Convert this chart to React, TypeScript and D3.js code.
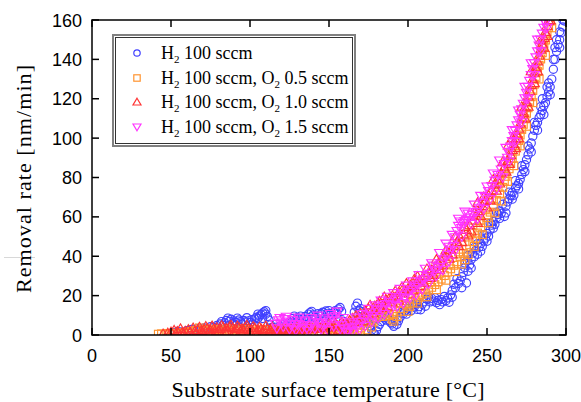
import React from "react";
import * as d3 from "d3";

const W = 581;
const H = 402;

const xTicks = [0, 50, 100, 150, 200, 250, 300];
const yTicks = [0, 20, 40, 60, 80, 100, 120, 140, 160];

const legendLabels = [
  { main: "H", sub: "2", rest: " 100 sccm", o2: "" },
  { main: "H", sub: "2", rest: " 100 sccm, O", o2: " 0.5 sccm" },
  { main: "H", sub: "2", rest: " 100 sccm, O", o2: " 1.0 sccm" },
  { main: "H", sub: "2", rest: " 100 sccm, O", o2: " 1.5 sccm" },
];

// H2 100 sccm (blue circles)
const seriesH2: [number, number][] = [
  [52,1.2],[54,1.8],[56,1.5],[60,2.2],[63,2.8],[65,2],[67,3.2],[69,2.6],[71,3.6],[73,3],[75,4.2],[77,3.8],[79,4.8],
  [81,5.6],[82,6.8],[84,6.2],[85,7.4],[87,7],[88,8],[90,7.2],[91,6.4],[93,7.6],[94,6.8],[96,7.4],[97,6.6],[99,7.2],
  [100,6.4],[101,7.8],[103,8.2],[104,9],[105,8.4],[106,9.6],[107,10.4],[108,11.2],[109,11.8],[110,10.6],[111,9.4],
  [112,7.6],[113,5.2],[114,3.8],[116,2.6],[118,3.2],[119,4.4],[121,3.6],[123,4.8],[124,6],[126,7.2],[127,8.4],
  [128,9.6],[130,8.8],[131,7.6],[133,7],[134,8.2],[135,9.4],[137,10.6],[138,11.4],[139,12],[140,10.2],[141,9],
  [142,8.2],[144,9.6],[145,10.8],[146,11.6],[148,12.2],[149,11],[150,9.8],[151,10.4],[153,11.6],[154,12.4],
  [156,13.2],[157,14],[159,7],[161,4.4],[163,3],[165,2],[166,11.6],[167,14.6],[168,16.2],[170,13.4],[171,11.8],
  [172,9.6],[174,7.4],[176,4.6],[177,2.4],[178,1],[179,0.4],[180,2.2],[181,4.2],[183,6.8],[184,8.8],[185,10.6],
  [187,9.2],[188,7.4],[190,5.6],[191,4.4],[193,5.4],[194,7.2],[195,9],[197,10.8],[198,12.2],[200,13.4],[201,14.6],
  [203,15.4],[204,14.2],[206,13],[207,14.4],[209,15.6],[210,16.8],[212,18.2],[213,19.4],[215,18.6],[216,17.2],
  [218,16.4],[219,17.6],[221,18],[222,16.8],[224,17.4],[225,18.8],[227,20.4],[228,22.6],[229,25.8],[230,24],
  [232,26.2],[233,27.4],[234,29.6],[235,31.8],[236,34.2],[237,26.4],[237.5,37.6],[238,32.4],[239,35.6],[240,38.4],
  [241,41.6],[242,39.8],[243,43.2],[244,41],[245,44.6],[246,46.4],[247,45],[248,47.8],[249,49.2],[250,51.6],
  [251,50.2],[252,53.4],[253,55.8],[254,57.6],[255,56.2],[256,59.4],[257,61.2],[258,63],[259,61.8],[261,60.2],
  [262,65.4],[263,67.6],[264,69.2],[265,70.8],[266,72.4],[267,71],[268,74.6],[269,75.8],[270,77],[271,79],
  [272,81.5],[273,84],[274,86.5],[275,89],[276,91.5],[277,94.5],[278,97.5],[279,101],[280,104],[281,106.5],
  [282,108],[283,110.5],[284,112],[285,114],[285,120],[286,116.5],[287,118],[288,121],[289,123.5],[289,128],
  [290,126],[291,130],[292,135],[293,140],[293,146],[294,144],[295,147.5],[296,150],[296,146],[297,153.5],
  [298,156.5],[299,159.5],
  [83,5],[86,8.6],[89,5.8],[92,8.6],[95,5.6],[98,8.8],[102,5.6],[105,10.6],[108,8.4],[110,12.4],[115,1.8],
  [117,4],[120,2.4],[122,5.6],[125,6.4],[129,7.4],[132,9.6],[136,7.6],[139,9.2],[143,10.8],[147,8.6],[150,12.4],
  [152,8.4],[155,10.6],[158,12],[160,5.2],[169,12.6],[173,8.8],[175,6],[182,5.4],[186,7.6],[189,6.2],[192,7],
  [196,11.6],[199,10.6],[202,12.4],[205,15.8],[208,12.8],[211,14.6],[214,16.8],[217,19],[220,15.4],[223,19.6],
  [226,16.6],[228,19.2],[231,28.6],[234,24],[236,36.6],[238,40.4],[240,34],[242,44.4],[244,46.4],[246,42.6],
  [248,51],[250,47.6],[252,56.8],[254,54.2],[256,62.4],[258,59.2],[260,66.4],[262,62],[264,72.6],[266,69],
  [268,78.4],[270,74.2],[272,86],[274,83],[276,96],[278,93],[280,108],[282,104],[284,116],[286,112],[288,126],
  [290,122],[292,140],[294,150],[296,154],[298,160],
];

// H2 100 sccm, O2 0.5 sccm (orange squares)
const seriesO05: [number, number][] = [
  [42,0.4],[44,0.6],[46,0.3],[48,0.8],[51,0.6],[54,1],[57,1.2],[60,1.4],[63,1.8],[66,2.4],[68,3.6],[70,2.8],
  [72,2.2],[75,1.8],[78,2.2],[81,1.6],[84,2],[87,2.4],[90,1.8],[93,2.2],[96,1.6],[99,2],[102,1.4],[105,1.8],
  [108,2.2],[111,1.6],[114,2],[117,2.4],[120,2],[123,2.6],[126,2.2],[129,2.8],[132,2.4],[135,3],[138,2.6],
  [141,3.2],[144,3.6],[147,3],[150,3.8],[152,3.2],[154,2.4],[156,1.6],[158,1],[160,1.8],[162,2.6],[164,1.2],
  [166,0.6],[168,2.4],[170,3.6],[172,4.8],[174,6.2],[176,7.4],[178,6.6],[180,8.8],[182,10.2],[184,9.4],
  [186,11.2],[188,9.8],[190,8],[191,7],[193,9.4],[195,12],[197,13.4],[199,15.2],[201,14.4],[203,16.6],
  [205,17.8],[207,19.2],[209,20.6],[211,21.4],[213,22.8],[215,24.2],[217,25.6],[219,27],[221,28.4],[223,30.2],
  [225,32],[227,33.6],[229,35.4],[231,37.2],[233,39.6],[235,41.4],[236,38.2],[237,43.6],[239,45.8],[241,47.4],
  [243,49.2],[244,51.8],[246,54.4],[248,57],[250,59.6],[252,62.4],[254,65.2],[256,68.4],[258,71.6],[260,75],
  [261,78.2],[262,80.6],[264,84.4],[265,87.2],[266,89.6],[268,93.4],[269,96.2],[270,98.8],[271,101.6],
  [272,104.4],[273,107],[274,109.8],[275,112.6],[276,115.4],[277,118.2],[278,121],[279,124.2],[280,127.4],
  [281,130.6],[282,133.8],[283,137],[284,140.2],[285,143.4],[286,146.6],[287,149.8],[288,153],[289,156.2],
  [290,159.4],
  [50,0.4],[56,0.5],[62,0.9],[74,3],[80,2.8],[86,3],[92,3],[98,2.8],[104,2.6],[110,2.8],[116,3],[122,3.4],
  [128,3.6],[134,3.8],[140,4],[146,4.2],[152,4.6],[160,4.2],[165,3],[170,1.4],[174,2.6],[177,4],[179,11.6],
  [183,13],[187,14.2],[191,10.4],[194,16.4],[198,18.6],[200,12],[202,20.4],[206,16.2],[208,23.4],[212,19.4],
  [214,27],[218,23],[220,31.4],[224,27.8],[226,36],[230,32.2],[232,42.2],[234,36],[238,40.8],[240,52],[242,45],
  [245,58],[247,51],[249,64],[251,57],[253,69.4],[255,62],[257,75],[259,68],[261,82],[263,78],[265,92],[267,86],
  [269,100],[271,96],[273,112],[275,106],[277,124],[279,118],[281,136],[283,130],[285,148],[287,142],[289,160],
  [291,156],
];

// H2 100 sccm, O2 1.0 sccm (red triangles)
const seriesO10: [number, number][] = [
  [45,0.6],[48,1],[50,1.6],[52,2.4],[54,1.8],[57,1.2],[59,2],[62,1.4],[65,1.8],[67,2.6],[69,2],[71,2.8],
  [73,3.4],[75,2.4],[77,3],[79,3.8],[81,3.2],[83,4],[85,3.4],[87,4.2],[89,3.6],[91,3],[93,3.8],[95,3.2],
  [97,4],[99,3.4],[101,2.8],[103,3.6],[105,2.6],[107,3.2],[109,2.4],[111,3],[113,2.4],[115,3],[117,2.2],
  [119,2.8],[121,2.2],[123,3],[125,2.4],[127,3.2],[129,2.6],[131,3.4],[133,2.8],[135,3.6],[137,3],[139,3.8],
  [141,3.2],[143,4],[145,3.4],[147,4.4],[149,3.8],[151,4.6],[153,4],[155,5],[157,4.4],[159,5.4],[161,6.2],
  [163,7.4],[165,8.6],[167,9.8],[168,7.6],[170,11],[171,9.2],[173,12.2],[175,13.4],[177,12.6],[179,14.8],
  [181,16],[182,17.2],[184,15.4],[186,17.8],[188,18.6],[189,18.2],[191,19.4],[193,20.2],[195,21.6],[196,24.2],
  [198,22.8],[200,23.6],[202,25],[204,28.4],[205,26.2],[207,27.4],[209,28.8],[211,30.2],[213,31.6],[215,33],
  [217,34.6],[219,36.2],[221,38],[223,39.8],[225,41.6],[227,43.4],[229,45.2],[231,47.4],[233,49.6],[235,51.2],
  [237,53.4],[239,55.8],[241,58.2],[243,60.6],[244,67.2],[245,63],[247,65.6],[249,68.2],[251,71],[253,73.6],
  [255,76.4],[257,79.4],[259,82.2],[261,85.2],[263,88.4],[263.5,96.4],[265,91.4],[266,94],[267,97],[268,99.4],
  [269,102],[270,104.8],[271,107.4],[272,110.2],[273,112.8],[274,115.6],[275,118.4],[276,121.2],[277,124],
  [278,127],[279,130],[280,133],[281,136],[282,139],[283,142],[284,145],[285,148],[286,151],[287,154],
  [288,157],[289,159.6],
  [56,3.2],[58,0.8],[61,2.8],[64,3.6],[66,0.9],[68,4],[70,1.2],[72,4.4],[74,1.4],[76,4.6],[78,1],[80,2],
  [82,4.8],[84,1.6],[86,2.2],[88,5],[90,1.4],[92,4.6],[94,1.8],[96,2.4],[98,5],[100,1.6],[102,4.4],[104,1.2],
  [106,4],[108,1.4],[110,4.6],[112,1],[114,4.2],[116,1.2],[118,3.8],[120,0.9],[122,4.4],[124,1.4],[126,3.8],
  [128,1],[130,4.2],[132,1.2],[134,4.6],[136,1.4],[138,4.2],[140,1.6],[142,4.8],[144,1.8],[146,5.4],[148,2],
  [150,5.8],[152,2.2],[154,6],[156,2.4],[158,6.6],[160,3],[162,4],[164,5],[166,6.6],[169,8.4],[172,7],
  [174,10.4],[176,15.2],[178,11],[180,12.4],[183,13.8],[185,19.4],[187,14.6],[190,16.6],[192,22.4],[194,17.6],
  [197,19.8],[199,26.2],[201,21],[203,22.6],[206,29.8],[208,25],[210,26.6],[212,33.6],[214,29],[216,30.6],
  [218,38.4],[220,33.2],[222,35.4],[224,43],[226,38.8],[228,41],[230,50.2],[232,45.2],[234,47.2],[236,55],
  [238,50.6],[240,52.6],[242,62],[244,57],[246,60.4],[248,70.2],[250,64.8],[252,68.4],[254,79],[256,73.4],
  [258,77],[260,88],[262,83],[264,87],[266,100],[268,95],[270,100],[272,116],[274,110],[276,116],[278,134],
  [280,128],[282,134],[284,150],[286,146],[288,152],[290,160],
];

// H2 100 sccm, O2 1.5 sccm (magenta down-triangles)
const seriesO15: [number, number][] = [
  [116,5.6],[118,7.4],[120,6.2],[122,8],[124,6.8],[126,5.2],[128,4],[130,5.6],[132,6.8],[134,5],[136,3.6],
  [138,4.8],[140,6.4],[142,7.8],[144,6.2],[146,4.6],[148,5.8],[150,7.4],[152,8.8],[154,9.6],[156,7.2],[158,5],
  [160,3.4],[162,2.2],[164,3.8],[166,5.4],[168,4.2],[170,6.6],[172,8.2],[174,10],[176,11.4],[178,9.6],
  [180,12.8],[182,14.2],[184,13],[186,15.6],[188,16.8],[190,15.4],[192,18],[194,19.2],[196,20.4],[198,19],
  [200,21.8],[202,23],[204,24.4],[206,25.6],[208,27],[210,28.2],[212,29.6],[214,31],[216,35.2],[217,32.6],
  [219,34.4],[221,36.2],[223,38.4],[225,40.6],[226,44.8],[227,42.8],[229,45.2],[230,49.6],[231,52.8],
  [232,55.4],[233,57.6],[234,54.2],[235,56.8],[236,62.6],[237,58.4],[239,59.6],[241,61],[243,62.4],
  [245,64.6],[247,67.2],[249,70],[251,73],[253,75.6],[255,78.4],[257,81.2],[259,84],[261,86.8],[263,90],
  [264,93],[265,95.6],[266,98.4],[267,101],[268,103.6],[269,106.4],[270,109],[271,111.8],[272,114.6],
  [273,117.4],[274,120.2],[275,123],[276,126],[277,129],[278,132],[279,135],[280,138],[281,141],[282,144],
  [283,147],[284,150],[285,153],[286,156],[287,158.6],[288,160],
  [117,3.4],[119,8.6],[121,4.2],[123,9.2],[125,3],[127,7.6],[129,2.4],[131,8.8],[133,3.2],[135,7.4],[137,2],
  [139,8.6],[141,3.4],[143,9.8],[145,2.8],[147,8.4],[149,2.4],[151,10.6],[153,4.4],[155,11.8],[157,3],[159,8.6],
  [161,1.4],[163,6.4],[165,1.8],[167,8.8],[169,2.4],[171,10.6],[173,4.6],[175,13.2],[177,6.4],[179,15],
  [181,8.6],[183,17.4],[185,10.6],[187,19.4],[189,12.4],[191,21.2],[193,14.6],[195,23.4],[197,16.2],[199,25],
  [201,18.6],[203,27.2],[205,20.4],[207,30.4],[209,23.2],[211,33.6],[213,26],[215,36.4],[218,30],[220,41.6],
  [222,33],[224,46.4],[226,37.4],[228,50.8],[230,43],[232,59],[234,50],[236,57.8],[238,61.6],[240,56.4],
  [242,66.2],[244,59],[246,70.6],[248,64],[250,75.4],[252,69],[254,82],[256,74],[258,88.6],[260,80],[262,95],
  [264,88],[266,104],[268,98],[270,114],[272,108],[274,126],[276,120],[278,138],[280,132],[282,150],[284,144],
  [286,160],[288,156],
];

const colors = ["#4040ff", "#ff9430", "#ff3434", "#ff34ff"];

function Marker({ kind, x, y, color }: { kind: number; x: number; y: number; color: string }) {
  const common = { fill: "none", stroke: color, strokeWidth: 1.15 };
  if (kind === 0) return <circle cx={x} cy={y} r={4.1} {...common} />;
  if (kind === 1) return <rect x={x - 3.9} y={y - 3.9} width={7.8} height={7.8} {...common} />;
  if (kind === 2)
    return <path d={`M${x},${y - 4.8}L${x + 5},${y + 3.6}L${x - 5},${y + 3.6}Z`} {...common} />;
  return <path d={`M${x},${y + 4.8}L${x + 5},${y - 3.6}L${x - 5},${y - 3.6}Z`} {...common} />;
}

function LegendMarker({ kind, x, y, color }: { kind: number; x: number; y: number; color: string }) {
  const common = { fill: "none", stroke: color, strokeWidth: 1.2 };
  if (kind === 0) return <circle cx={x} cy={y} r={3.2} {...common} />;
  if (kind === 1) return <rect x={x - 3.2} y={y - 3.2} width={6.4} height={6.4} {...common} />;
  if (kind === 2)
    return <path d={`M${x},${y - 3.8}L${x + 4},${y + 3}L${x - 4},${y + 3}Z`} {...common} />;
  return <path d={`M${x},${y + 3.8}L${x + 4},${y - 3}L${x - 4},${y - 3}Z`} {...common} />;
}

export default function App() {
  const left = 92, right = 566, top = 20, bottom = 335;
  const x = d3.scaleLinear().domain([0, 300]).range([left, right]);
  const y = d3.scaleLinear().domain([0, 160]).range([bottom, top]);
  const allSeries = [seriesH2, seriesO05, seriesO10, seriesO15];
  const serif = "'Liberation Serif', 'Times New Roman', serif";
  const sans = "'Liberation Sans', Arial, sans-serif";
  const tickLen = 7;

  const legX = 113, legY = 35, legW = 242, legH = 111;
  const legRows = [53, 78, 102, 127];

  return (
    <div style={{ position: "fixed", left: 0, top: 0 }}>
      <svg width={W} height={H} style={{ display: "block", background: "#fff" }}>
        <defs>
          <clipPath id="plotclip">
            <rect x={left} y={top} width={right - left} height={bottom - top} />
          </clipPath>
        </defs>
        <line x1={4} x2={35} y1={257.5} y2={257.5} stroke="#d8d8d8" strokeWidth={1} />
        <g clipPath="url(#plotclip)">
          {allSeries.map((s, si) => (
            <g key={si}>
              {s.map((d, i) => (
                <Marker key={i} kind={si} x={x(d[0])} y={y(d[1])} color={colors[si]} />
              ))}
            </g>
          ))}
        </g>
        <rect x={left} y={top} width={right - left} height={bottom - top} fill="none" stroke="#000" strokeWidth={1.5} />
        {xTicks.map((t) => (
          <g key={"x" + t}>
            <line x1={x(t)} x2={x(t)} y1={bottom} y2={bottom - tickLen} stroke="#000" strokeWidth={1.5} />
            <line x1={x(t)} x2={x(t)} y1={top} y2={top + tickLen} stroke="#000" strokeWidth={1.5} />
            <text x={x(t)} y={362} textAnchor="middle" fontFamily={sans} fontSize={18} fill="#000">
              {t}
            </text>
          </g>
        ))}
        {yTicks.map((t) => (
          <g key={"y" + t}>
            <line x1={left} x2={left + tickLen} y1={y(t)} y2={y(t)} stroke="#000" strokeWidth={1.5} />
            <line x1={right} x2={right - tickLen} y1={y(t)} y2={y(t)} stroke="#000" strokeWidth={1.5} />
            <text x={82} y={y(t) + 6.5} textAnchor="end" fontFamily={sans} fontSize={18} fill="#000">
              {t}
            </text>
          </g>
        ))}
        <text
          x={328}
          y={397}
          textAnchor="middle"
          fontFamily={serif}
          fontSize={22}
          textLength={313}
          lengthAdjust="spacing"
          fill="#000"
        >
          Substrate surface temperature [°C]
        </text>
        <text
          transform="translate(31,179) rotate(-90)"
          textAnchor="middle"
          fontFamily={serif}
          fontSize={22}
          textLength={228}
          lengthAdjust="spacing"
          fill="#000"
        >
          Removal rate [nm/min]
        </text>
        <rect x={legX} y={legY} width={legW} height={legH} fill="#fff" stroke="#808080" strokeWidth={2} />
        <rect x={legX + 2.5} y={legY + 2.5} width={legW - 5} height={legH - 5} fill="none" stroke="#333" strokeWidth={1} />
        {legendLabels.map((l, i) => (
          <g key={i}>
            <LegendMarker kind={i} x={137} y={legRows[i]} color={colors[i]} />
            <text x={161} y={legRows[i] + 6} fontFamily={serif} fontSize={18} fill="#000">
              {l.main}
              <tspan fontSize={11} dy={4}>{l.sub}</tspan>
              <tspan dy={-4}>{l.rest}</tspan>
              {l.o2 ? (
                <>
                  <tspan fontSize={11} dy={4}>2</tspan>
                  <tspan dy={-4}>{l.o2}</tspan>
                </>
              ) : null}
            </text>
          </g>
        ))}
      </svg>
    </div>
  );
}
